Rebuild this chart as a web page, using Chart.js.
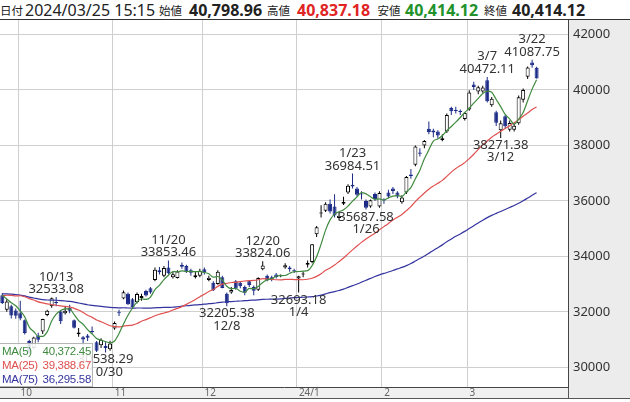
<!DOCTYPE html>
<html>
<head>
<meta charset="utf-8">
<script src="https://cdn.jsdelivr.net/npm/chart.js@4.4.1/dist/chart.umd.min.js"></script>
<style>
  body { margin: 0; width: 630px; height: 402px; overflow: hidden; background: #fff; position: relative; font-family: "Noto Sans", sans-serif; }
  #hdr { position: absolute; left: 0; top: 0; width: 630px; height: 19px; border-bottom: 1px solid #333; color: #222; }
  #hdr span { position: absolute; top: 0; line-height: 21px; white-space: nowrap; }
  #hdr .k { font-family: "Noto Sans CJK JP", sans-serif; font-size: 11.5px; }
  #hdr .d { font-size: 16px; }
  #hdr .v { font-size: 16px; font-weight: bold; }
  #wrap { position: absolute; left: 0; top: 20px; width: 630px; height: 382px; }
  #leg { position: absolute; left: 0; top: 343px; width: 92px; height: 42px; background: rgba(255,255,255,0.85);
         border: 1px solid #b5b5b5; border-left: none; font-family: "Liberation Sans", sans-serif; font-size: 11.5px; letter-spacing: -0.3px; }
  #leg div { display: flex; justify-content: space-between; height: 14px; line-height: 14px; padding: 0 1px 0 2px; }
</style>
</head>
<body>
<div id="hdr"></div>
<div id="wrap"><canvas id="c"></canvas></div>
<div id="leg"></div>
<script>
// 日経平均 日足 2023/09/26 - 2024/03/25
const dates = [
  '9/26','9/27','9/28','9/29',
  '10/2','10/3','10/4','10/5','10/6','10/10','10/11','10/12','10/13','10/16','10/17','10/18','10/19','10/20','10/23','10/24','10/25','10/26','10/27','10/30','10/31',
  '11/1','11/2','11/6','11/7','11/8','11/9','11/10','11/13','11/14','11/15','11/16','11/17','11/20','11/21','11/22','11/24','11/27','11/28','11/29','11/30',
  '12/1','12/4','12/5','12/6','12/7','12/8','12/11','12/12','12/13','12/14','12/15','12/18','12/19','12/20','12/21','12/22','12/25','12/26','12/27','12/28','12/29',
  '1/4','1/5','1/9','1/10','1/11','1/12','1/15','1/16','1/17','1/18','1/19','1/22','1/23','1/24','1/25','1/26','1/29','1/30','1/31',
  '2/1','2/2','2/5','2/6','2/7','2/8','2/9','2/13','2/14','2/15','2/16','2/19','2/20','2/21','2/22','2/26','2/27','2/28','2/29',
  '3/1','3/4','3/5','3/6','3/7','3/8','3/11','3/12','3/13','3/14','3/15','3/18','3/19','3/21','3/22','3/25'
];
const opens = [
  32600,32080,32200,32050,
  31950,31700,30950,30700,31150,31290,31890,32200,32340,32010,31950,32150,31700,31190,31080,31150,31300,30900,30800,30780,30650,
  31400,31980,32480,32650,32450,32350,32500,32750,32850,33150,33500,33300,33600,33250,33220,33700,33650,33500,33250,33300,
  33540,33150,33050,33000,33250,32650,32700,33100,33050,32900,33100,32900,32800,33540,33300,33250,33350,33300,33600,33600,33500,
  33200,33350,33700,33800,34800,35550,35650,35900,35800,35380,35900,36300,36580,36450,36250,36000,35800,36250,35800,
  36050,36300,36450,36300,35950,36300,36950,37300,37750,38000,38600,38540,38500,38200,38500,39350,39250,39250,38950,
  39300,40200,39950,39950,40350,39450,39200,38550,39050,38570,38570,38800,39650,40480,40990,40798.96
];
const highs = [
  32680,32450,32260,32120,
  32400,31720,30990,31100,31250,31750,32080,32520,32533.08,32050,32200,32260,31720,31420,31130,31200,31470,30950,31050,30900,30960,
  31650,32080,32770,32700,32500,32700,32650,32800,32900,33600,33620,33650,33853.46,33450,33500,33780,33700,33550,33450,33550,
  33600,33300,33100,33500,33300,32700,32900,33150,33100,32950,33150,32950,33250,33824.06,33350,33300,33400,33350,33750,33650,33550,
  33300,33450,33850,34450,35100,35840,35950,36050,36240,35600,36150,36600,36984.51,36500,36350,36050,36050,36300,36350,
  36100,36400,36500,36350,36200,36900,37150,38000,37900,38200,38865,38600,38550,38400,39150,39400,39400,39300,39200,
  39990,40300,40150,40150,40472.11,39750,39250,38900,39100,38900,38800,39800,40050,40850,41087.75,40837.18
];
const lows = [
  32280,32000,31760,31750,
  31700,31180,30487,30650,30900,31200,31840,32150,32200,31560,31900,31950,31400,31100,30800,30950,31200,30550,30700,30538.29,30600,
  31350,31850,32450,32250,32100,32300,32400,32550,32650,33100,33350,33250,33350,33200,33200,33550,33400,33300,33200,33250,
  33350,33100,32750,32980,32850,32205.38,32650,32800,32850,32600,32900,32600,32750,33500,33100,33100,33200,33250,33550,33450,33400,
  32693.18,33250,33600,33750,34700,35400,35600,35550,35400,35300,35850,36250,36450,36150,36050,35687.58,35750,36000,35750,
  35900,36100,36250,36100,35900,36250,36800,37250,37600,37900,38400,38300,38250,38150,38450,39100,39150,39100,38900,
  39250,40000,39850,39900,39550,39400,38700,38271.38,38600,38500,38500,38750,39550,40400,40800,40414.12
];
const closes = [
  32315,32371,31872,31857,
  31759,31237,30526,31075,30994,31746,32041,32494,32315,31659,32040,32042,31430,31259,30999,31062,31269,30601,30991,30697,30859,
  31601,31950,32708,32271,32166,32646,32568,32585,32695,33519,33424,33585,33388,33354,33451,33625,33447,33408,33321,33486,
  33431,33231,32775,33445,32858,32307,32791,32843,32926,32686,32970,32758,33219,33675,33140,33169,33255,33305,33681,33539,33464,
  33288,33377,33763,34441,35049,35577,35901,35619,35477,35466,35963,36546,36517,36226,36236,35751,36026,36065,36286,
  36011,36158,36354,36160,36119,36863,36897,37963,37703,38157,38487,38470,38363,38262,39098,39233,39239,39208,39166,
  39910,40109,40097,40090,39598,39688,38820,38797,38695,38807,38707,39740,40003,40815,40888,40414.12
];
const ma5 = [
  32598,32467,32328,32219,32035,31819,31450,31291,31118,31116,
  31276,31670,31918,32051,32110,32110,31897,31686,31554,31358,
  31204,31038,30984,30924,30883,30950,31220,31563,31878,32139,
  32348,32472,32447,32532,32803,32958,33162,33322,33454,33440,
  33481,33453,33457,33450,33457,33419,33375,33249,33274,33148,
  32923,32835,32849,32745,32711,32843,32837,32912,33062,33152,
  33192,33292,33309,33310,33390,33449,33455,33470,33486,33667,
  33984,34441,34946,35317,35525,35608,35685,35814,35994,36144,
  36298,36255,36151,36061,36073,36028,36109,36175,36194,36160,
  36331,36479,36800,37109,37517,37841,38156,38236,38348,38536,
  38685,38839,39008,39189,39351,39526,39698,39874,39961,39916,
  39659,39399,39120,38961,38765,38949,39190,39614,40031,40372.45
];
const ma25 = [
  32578,32599,32593,32576,32581,32544,32476,32426,32361,32322,
  32286,32265,32238,32217,32195,32178,32124,32066,31979,31880,
  31801,31705,31641,31573,31500,31472,31455,31488,31505,31521,
  31578,31659,31720,31788,31859,31914,31958,32001,32068,32125,
  32188,32269,32355,32448,32545,32631,32736,32808,32918,32998,
  33026,33059,33065,33091,33112,33125,33132,33158,33197,33182,
  33172,33158,33155,33168,33172,33165,33159,33158,33175,33213,
  33278,33372,33497,33584,33689,33815,33942,34090,34234,34375,
  34506,34626,34738,34834,34959,35073,35189,35311,35410,35514,
  35650,35794,35977,36135,36284,36421,36537,36635,36741,36886,
  37037,37168,37274,37380,37527,37682,37856,38019,38160,38296,
  38408,38514,38608,38714,38817,38932,39056,39170,39298,39388.67
];
const ma75 = [
  32647,32649,32641,32626,32603,32573,32530,32500,32468,32443,
  32427,32423,32418,32406,32391,32375,32352,32318,32286,32256,
  32236,32212,32196,32176,32161,32150,32145,32147,32139,32135,
  32139,32138,32136,32137,32145,32154,32159,32158,32167,32184,
  32203,32219,32233,32248,32261,32279,32293,32306,32330,32349,
  32359,32372,32383,32391,32405,32416,32423,32435,32449,32455,
  32458,32461,32465,32485,32498,32511,32518,32527,32535,32547,
  32571,32605,32649,32692,32729,32771,32819,32882,32944,33003,
  33070,33140,33206,33273,33334,33387,33436,33489,33549,33604,
  33668,33741,33830,33920,34014,34111,34216,34314,34415,34525,
  34626,34724,34810,34902,35005,35105,35205,35305,35397,35480,
  35552,35621,35692,35765,35835,35916,36004,36102,36203,36295.58
];
const yTicks = [30000, 32000, 34000, 36000, 38000, 40000, 42000];
const xTickLabels = ['10', '11', '12', '24/1', '2', '3'];
const highMarks = ['10/13', '11/20', '12/20', '1/23', '3/7', '3/22'];
const lowMarks = ['10/30', '12/8', '1/4', '1/26', '3/12'];
const stamp = '2024/03/25 15:15';

const UP = '#000000';
const DOWN = '#1b2a86';
const FONT = '"Noto Sans", sans-serif';

// first trading day of each month (skip the leading September days)
const monthStarts = dates.map((d, i) => i).filter(i => i > 0 && dates[i].split('/')[0] !== dates[i - 1].split('/')[0]);

const fmt = v => v.toLocaleString('en-US', { minimumFractionDigits: 2, maximumFractionDigits: 2 });
const last = closes.length - 1;

// header
const hdrItems = [
  ['k', '日付', 0], ['d', stamp, 25],
  ['k', '始値', 159], ['v', fmt(opens[last]), 189],
  ['k', '高値', 267], ['v', fmt(highs[last]), 297, '#e02424'],
  ['k', '安値', 377.5], ['v', fmt(lows[last]), 405, '#23922b'],
  ['k', '終値', 484], ['v', fmt(closes[last]), 512],
];
document.getElementById('hdr').innerHTML = hdrItems.map(([c, t, x, col]) =>
  `<span class="${c}" style="left:${x}px;${col ? 'color:' + col : ''}">${t}</span>`).join('');

// MA legend box
const maInfo = [
  ['MA(5)', ma5, '#3f8a3f'],
  ['MA(25)', ma25, '#e05050'],
  ['MA(75)', ma75, '#3434a0'],
];
document.getElementById('leg').innerHTML = maInfo.map(([n, arr, col]) =>
  `<div style="color:${col}"><span>${n}</span><span>${fmt(arr[arr.length - 1])}</span></div>`).join('');

const isUp = i => closes[i] >= opens[i];
const pts = arr => arr.map((v, i) => ({ x: i, y: v }));

const panels = {
  id: 'panels',
  beforeDraw(chart) {
    const { ctx, chartArea: a, width } = chart;
    ctx.save();
    ctx.fillStyle = '#ececec';
    ctx.fillRect(a.right, a.top, width - a.right, a.bottom - a.top + 11);
    ctx.fillStyle = '#f0f0f0';
    ctx.fillRect(0, a.bottom, a.right, 11);
    ctx.strokeStyle = '#555';
    ctx.lineWidth = 1;
    ctx.beginPath();
    ctx.moveTo(0, a.bottom + 11.5);
    ctx.lineTo(width, a.bottom + 11.5);
    ctx.moveTo(a.right + 0.5, a.bottom);
    ctx.lineTo(a.right + 0.5, a.bottom + 11);
    ctx.stroke();
    ctx.restore();
  }
};

const peakLabels = {
  id: 'peakLabels',
  afterDatasetsDraw(chart) {
    const { ctx, scales: { x, y } } = chart;
    ctx.save();
    ctx.font = '13px ' + FONT;
    ctx.fillStyle = '#333';
    ctx.textAlign = 'center';
    highMarks.forEach(d => {
      const i = dates.indexOf(d);
      const px = x.getPixelForValue(i), py = y.getPixelForValue(highs[i]);
      ctx.fillText(highs[i].toFixed(2), px, py - 4);
      ctx.fillText(d, px, py - 16.5);
    });
    lowMarks.forEach(d => {
      const i = dates.indexOf(d);
      const px = x.getPixelForValue(i), py = y.getPixelForValue(lows[i]);
      ctx.fillText(lows[i].toFixed(2), px, py + 11);
      ctx.fillText(d, px, py + 23.5);
    });
    ctx.restore();
  }
};

new Chart(document.getElementById('c'), {
  type: 'bar',
  data: {
    datasets: [
      ...maInfo.map(([n, arr, col]) => ({
        type: 'line', label: n, data: pts(arr), borderColor: col, borderWidth: 1.2,
        pointRadius: 0, cubicInterpolationMode: 'monotone', fill: false,
      })),
      {
        label: 'body', grouped: false, barThickness: 4, minBarLength: 1,
        data: opens.map((o, i) => ({ x: i, y: [o, closes[i]] })),
        backgroundColor: opens.map((o, i) => isUp(i) ? '#ffffff' : DOWN),
        borderColor: opens.map((o, i) => isUp(i) ? UP : DOWN),
        borderWidth: 1, borderSkipped: false, inflateAmount: 0,
      },
      {
        label: 'wick', grouped: false, barThickness: 1,
        data: lows.map((l, i) => ({ x: i, y: [l, highs[i]] })),
        backgroundColor: lows.map((l, i) => isUp(i) ? UP : DOWN),
        borderWidth: 0, inflateAmount: 0,
      },
    ]
  },
  options: {
    responsive: true,
    maintainAspectRatio: false,
    animation: false,
    layout: { padding: { left: 0, right: 0, top: 0, bottom: 4 } },
    plugins: { legend: { display: false }, tooltip: { enabled: false } },
    scales: {
      x: {
        type: 'linear', position: 'bottom', min: -0.51, max: 125.99, offset: false,
        afterBuildTicks: s => { s.ticks = monthStarts.map(i => ({ value: i - 0.5 })); },
        afterFit: s => { s.height = 11; s.paddingLeft = 0; s.paddingRight = 0; },
        ticks: {
          autoSkip: false, maxRotation: 0, align: 'start', labelOffset: 2.5, padding: 0,
          color: '#666', font: { size: 10, family: FONT },
          callback: (v, i) => xTickLabels[i],
        },
        grid: { color: '#cfcfcf', drawTicks: false, offset: false },
        border: { color: '#444' },
      },
      y: {
        type: 'linear', position: 'right', min: 29290, max: 42524,
        afterBuildTicks: s => { s.ticks = yTicks.map(v => ({ value: v })); },
        afterFit: s => { s.width = 62; s.paddingTop = 0; s.paddingBottom = 0; },
        ticks: { color: '#333', padding: 5, font: { size: 13, family: FONT }, callback: v => String(v) },
        grid: { color: '#cfcfcf', drawTicks: false },
        border: { color: '#444' },
      },
    },
  },
  plugins: [panels, peakLabels],
});
</script>
</body>
</html>
